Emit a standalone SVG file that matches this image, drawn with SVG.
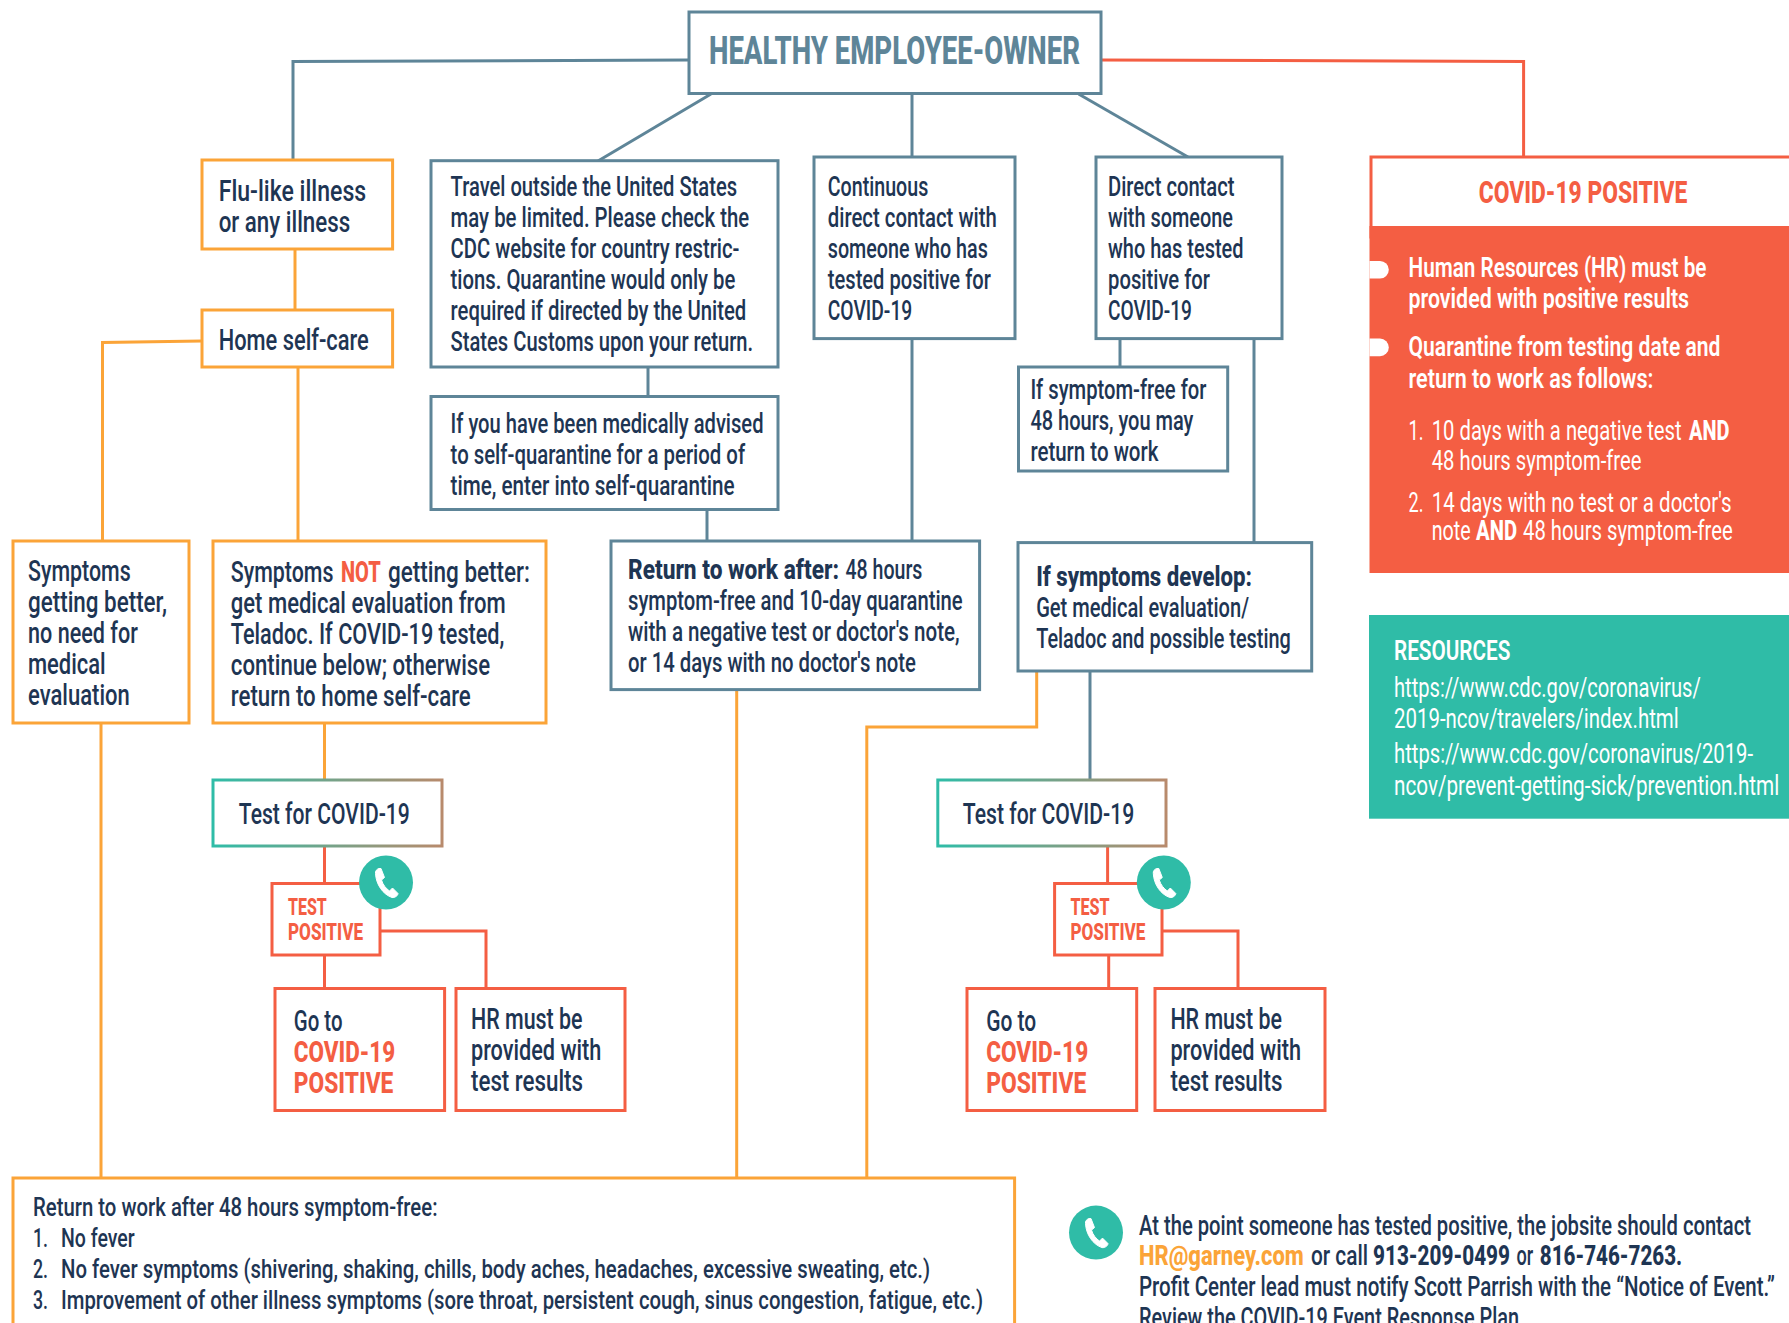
<svg xmlns="http://www.w3.org/2000/svg" xmlns:xlink="http://www.w3.org/1999/xlink" width="1789" height="1323" viewBox="0 0 1789 1323">
<style>
text{font-family:Roboto,"Liberation Sans",sans-serif;font-size:27.500px;font-weight:500;fill:#1e3553}
.s{fill:none;stroke:#5e8598;stroke-width:3}
.o{fill:none;stroke:#fba438;stroke-width:3}
.r{fill:none;stroke:#f45e43;stroke-width:3}
.ob{fill:#fff;stroke:#fba438;stroke-width:3}
.sb{fill:#fff;stroke:#5e8598;stroke-width:3}
.rb{fill:#fff;stroke:#f45e43;stroke-width:3}
.gb{fill:#fff;stroke:url(#grad);stroke-width:3}
.big{font-size:29.500px}
.red{fill:#f45e43}
.w{fill:#fff;font-size:27px;font-weight:400}
.tp{fill:#f45e43;font-weight:800;font-size:23.500px}
.cp{fill:#f45e43;font-weight:800;font-size:30.500px}
.sm{font-size:25.500px}
.ft{font-size:27px}
.org{fill:#fba438}
.b{font-weight:800}
.m{font-weight:600}
</style>
<defs>
<linearGradient id="grad" x1="0" y1="0" x2="1" y2="0"><stop offset="0" stop-color="#2fbca7"/><stop offset="1" stop-color="#b88a6c"/></linearGradient>
<g id="phone"><circle r="27" fill="#2fbca7"/><path fill="#fff" stroke="#fff" stroke-width="1" stroke-linejoin="round" d="M-10.500-9C-11-11.500-9-13.500-7-14L-5-14L-1.500-5L-4.500-2.500C-3 2.500 0 6 3.500 8.500L6.500 5.500L12 11C12 13 9 15.500 6 15C-3 12-10 2-10.500-9Z"/></g>
</defs>
<rect width="1789" height="1323" fill="#fff"/>
<g id="connectors">
<path class="s" d="M689 60L293 61.500V160"/>
<path class="s" d="M711 94L598 161"/>
<path class="s" d="M912 93V157"/>
<path class="s" d="M1078.600 94L1188 157"/>
<path class="r" d="M1101 60L1523.600 61.500V157"/>
<path class="o" d="M295 249V310"/>
<path class="o" d="M202 341L102.500 342.500V541"/>
<path class="o" d="M298 367V541"/>
<path class="s" d="M648 367V397"/>
<path class="s" d="M707 510V541"/>
<path class="s" d="M912 338V541"/>
<path class="s" d="M1120 338V367"/>
<path class="s" d="M1254 338V543"/>
<path class="o" d="M324.500 723V780"/>
<path class="r" d="M324.500 846V884"/>
<path class="r" d="M380 931H486V988"/>
<path class="r" d="M324.500 955V988"/>
<path class="o" d="M101 723V1177"/>
<path class="o" d="M736.700 690V1177"/>
<path class="o" d="M1036.700 671V727H866.800V1177"/>
<path class="s" d="M1090 671V780"/>
<path class="r" d="M1107.600 846V884"/>
<path class="r" d="M1162 931H1238V988"/>
<path class="r" d="M1108.700 955V988"/>
</g>
<g id="main"><rect class="sb" x="689" y="12" width="412" height="81.500"/><text x="709" y="64" class="b" style="font-size:38px;fill:#5e8598" textLength="371" lengthAdjust="spacingAndGlyphs">HEALTHY EMPLOYEE-OWNER</text></g>
<g id="flu"><rect class="ob" x="202" y="160" width="190.600" height="89"/><text class="big" x="218.700" y="200.700" textLength="147.500" lengthAdjust="spacingAndGlyphs">Flu-like illness</text><text class="big" x="218.700" y="232" textLength="131.500" lengthAdjust="spacingAndGlyphs">or any illness</text></g>
<g id="home"><rect class="ob" x="202" y="310" width="190.600" height="57"/><text class="big" x="218.700" y="350" textLength="150" lengthAdjust="spacingAndGlyphs">Home self-care</text></g>
<g id="travel"><rect class="sb" x="431" y="160.700" width="347" height="206.300"/>
<text x="450.600" y="195.700" textLength="286.500" lengthAdjust="spacingAndGlyphs">Travel outside the United States</text>
<text x="450.600" y="226.700" textLength="298.500" lengthAdjust="spacingAndGlyphs">may be limited. Please check the</text>
<text x="450.600" y="257.700" textLength="288.800" lengthAdjust="spacingAndGlyphs">CDC website for country restric-</text>
<text x="450.600" y="288.700" textLength="284.700" lengthAdjust="spacingAndGlyphs">tions. Quarantine would only be</text>
<text x="450.600" y="319.700" textLength="295.600" lengthAdjust="spacingAndGlyphs">required if directed by the United</text>
<text x="450.600" y="350.700" textLength="302.500" lengthAdjust="spacingAndGlyphs">States Customs upon your return.</text></g>
<g id="selfq"><rect class="sb" x="431" y="396.500" width="347" height="113"/>
<text x="450.600" y="432.900" textLength="312.900" lengthAdjust="spacingAndGlyphs">If you have been medically advised</text>
<text x="450.600" y="464" textLength="294.500" lengthAdjust="spacingAndGlyphs">to self-quarantine for a period of</text>
<text x="450.600" y="495" textLength="284" lengthAdjust="spacingAndGlyphs">time, enter into self-quarantine</text></g>
<g id="continuous"><rect class="sb" x="814" y="157" width="201" height="181.600"/>
<text x="827.800" y="195.700" textLength="100.500" lengthAdjust="spacingAndGlyphs">Continuous</text>
<text x="827.800" y="226.700" textLength="169" lengthAdjust="spacingAndGlyphs">direct contact with</text>
<text x="827.800" y="257.700" textLength="160" lengthAdjust="spacingAndGlyphs">someone who has</text>
<text x="827.800" y="288.700" textLength="163" lengthAdjust="spacingAndGlyphs">tested positive for</text>
<text x="827.800" y="319.700" textLength="84.500" lengthAdjust="spacingAndGlyphs">COVID-19</text></g>
<g id="direct"><rect class="sb" x="1096" y="157" width="186" height="181.600"/>
<text x="1108" y="195.700" textLength="126.500" lengthAdjust="spacingAndGlyphs">Direct contact</text>
<text x="1108" y="226.700" textLength="125" lengthAdjust="spacingAndGlyphs">with someone</text>
<text x="1108" y="257.700" textLength="135.500" lengthAdjust="spacingAndGlyphs">who has tested</text>
<text x="1108" y="288.700" textLength="102" lengthAdjust="spacingAndGlyphs">positive for</text>
<text x="1108" y="319.700" textLength="84" lengthAdjust="spacingAndGlyphs">COVID-19</text></g>
<g id="symptomfree"><rect class="sb" x="1018.500" y="367" width="209.200" height="104"/>
<text x="1030.400" y="398.600" textLength="176" lengthAdjust="spacingAndGlyphs">If symptom-free for</text>
<text x="1030.400" y="430" textLength="163" lengthAdjust="spacingAndGlyphs">48 hours, you may</text>
<text x="1030.400" y="460.700" textLength="128" lengthAdjust="spacingAndGlyphs">return to work</text></g>
<g id="positive">
<rect class="rb" x="1371" y="157" width="450" height="80"/>
<rect x="1369.500" y="226" width="419.500" height="347" fill="#f45e43"/>
<text x="1478.800" y="202.500" class="cp" textLength="208.600" lengthAdjust="spacingAndGlyphs">COVID-19 POSITIVE</text>
<path fill="#fff" d="M1369.500 261H1380a8.800 8.800 0 0 1 0 17.600H1369.500Z"/>
<path fill="#fff" d="M1369.500 338.600H1380a8.800 8.800 0 0 1 0 17.600H1369.500Z"/>
<text class="w m" x="1408.500" y="276.800" textLength="298" lengthAdjust="spacingAndGlyphs">Human Resources (HR) must be</text>
<text class="w m" x="1408.500" y="307.900" textLength="280.600" lengthAdjust="spacingAndGlyphs">provided with positive results</text>
<text class="w m" x="1408.500" y="356.400" textLength="312" lengthAdjust="spacingAndGlyphs">Quarantine from testing date and</text>
<text class="w m" x="1408.500" y="387.500" textLength="245" lengthAdjust="spacingAndGlyphs">return to work as follows:</text>
<text class="w" x="1408.500" y="440.400" textLength="15" lengthAdjust="spacingAndGlyphs">1.</text>
<text class="w" x="1431.700" y="440.400"><tspan textLength="250" lengthAdjust="spacingAndGlyphs">10 days with a negative test</tspan><tspan class="b" x="1689" textLength="40.500" lengthAdjust="spacingAndGlyphs">AND</tspan></text>
<text class="w" x="1431.700" y="469.600" textLength="209.800" lengthAdjust="spacingAndGlyphs">48 hours symptom-free</text>
<text class="w" x="1408.500" y="511.800" textLength="15" lengthAdjust="spacingAndGlyphs">2.</text>
<text class="w" x="1431.700" y="511.800" textLength="300" lengthAdjust="spacingAndGlyphs">14 days with no test or a doctor's</text>
<text class="w" x="1431.700" y="540.400"><tspan textLength="39" lengthAdjust="spacingAndGlyphs">note</tspan><tspan class="b" x="1476" textLength="41" lengthAdjust="spacingAndGlyphs">AND</tspan><tspan x="1523" textLength="209.700" lengthAdjust="spacingAndGlyphs">48 hours symptom-free</tspan></text>
</g>
<g id="resources"><rect x="1369" y="615" width="420" height="203.700" fill="#2fbca7"/>
<text class="w m" x="1394" y="660" textLength="116.300" lengthAdjust="spacingAndGlyphs">RESOURCES</text>
<text class="w" x="1394" y="696.700" textLength="306.700" lengthAdjust="spacingAndGlyphs">https://www.cdc.gov/coronavirus/</text>
<text class="w" x="1394" y="728" textLength="284.700" lengthAdjust="spacingAndGlyphs">2019-ncov/travelers/index.html</text>
<text class="w" x="1394" y="763" textLength="359" lengthAdjust="spacingAndGlyphs">https://www.cdc.gov/coronavirus/2019-</text>
<text class="w" x="1394" y="795" textLength="385.300" lengthAdjust="spacingAndGlyphs">ncov/prevent-getting-sick/prevention.html</text></g>
<g id="better"><rect class="ob" x="13" y="541" width="176" height="182"/>
<text class="big" x="28" y="581" textLength="102.700" lengthAdjust="spacingAndGlyphs">Symptoms</text>
<text class="big" x="28" y="612.300" textLength="139" lengthAdjust="spacingAndGlyphs">getting better,</text>
<text class="big" x="28" y="643.200" textLength="109.800" lengthAdjust="spacingAndGlyphs">no need for</text>
<text class="big" x="28" y="674" textLength="77.700" lengthAdjust="spacingAndGlyphs">medical</text>
<text class="big" x="28" y="705.300" textLength="101.800" lengthAdjust="spacingAndGlyphs">evaluation</text></g>
<g id="notbetter"><rect class="ob" x="213" y="541" width="333" height="182"/>
<text class="big" x="230.800" y="581.700"><tspan textLength="102.700" lengthAdjust="spacingAndGlyphs">Symptoms</tspan><tspan class="red b" x="341" textLength="39.700" lengthAdjust="spacingAndGlyphs">NOT</tspan><tspan x="388" textLength="142" lengthAdjust="spacingAndGlyphs">getting better:</tspan></text>
<text class="big" x="230.800" y="613" textLength="275" lengthAdjust="spacingAndGlyphs">get medical evaluation from</text>
<text class="big" x="230.800" y="644" textLength="273.600" lengthAdjust="spacingAndGlyphs">Teladoc. If COVID-19 tested,</text>
<text class="big" x="230.800" y="675.400" textLength="259.400" lengthAdjust="spacingAndGlyphs">continue below; otherwise</text>
<text class="big" x="230.800" y="706" textLength="240" lengthAdjust="spacingAndGlyphs">return to home self-care</text></g>
<g id="return"><rect class="sb" x="611" y="541" width="368.600" height="148.600"/>
<text x="628" y="578.600"><tspan class="b" textLength="211" lengthAdjust="spacingAndGlyphs">Return to work after:</tspan><tspan x="845.400" textLength="77" lengthAdjust="spacingAndGlyphs">48 hours</tspan></text>
<text x="628" y="609.600" textLength="334.700" lengthAdjust="spacingAndGlyphs">symptom-free and 10-day quarantine</text>
<text x="628" y="640.600" textLength="331.600" lengthAdjust="spacingAndGlyphs">with a negative test or doctor's note,</text>
<text x="628" y="671.600" textLength="287.800" lengthAdjust="spacingAndGlyphs">or 14 days with no doctor's note</text></g>
<g id="develop"><rect class="sb" x="1018" y="542.600" width="293.700" height="128.400"/>
<text class="b" x="1036.200" y="585.900" textLength="215.800" lengthAdjust="spacingAndGlyphs">If symptoms develop:</text>
<text x="1036.200" y="616.900" textLength="212.800" lengthAdjust="spacingAndGlyphs">Get medical evaluation/</text>
<text x="1036.200" y="647.900" textLength="254.600" lengthAdjust="spacingAndGlyphs">Teladoc and possible testing</text></g>
<g id="test1"><rect class="gb" x="213" y="780" width="229" height="66"/><text class="big" x="238.800" y="824" textLength="171" lengthAdjust="spacingAndGlyphs">Test for COVID-19</text></g>
<g id="test2"><rect class="gb" x="937.800" y="780" width="228.200" height="66"/><text class="big" x="962.800" y="824" textLength="171.400" lengthAdjust="spacingAndGlyphs">Test for COVID-19</text></g>
<g id="tp1"><rect class="rb" x="272" y="883.500" width="108" height="71.500"/><text class="tp" x="288" y="914.600" textLength="38.800" lengthAdjust="spacingAndGlyphs">TEST</text><text class="tp" x="288" y="940" textLength="75" lengthAdjust="spacingAndGlyphs">POSITIVE</text><use xlink:href="#phone" href="#phone" x="386" y="882.500"/></g>
<g id="tp2"><rect class="rb" x="1054.600" y="883.500" width="107.400" height="71.500"/><text class="tp" x="1070.400" y="914.600" textLength="39.300" lengthAdjust="spacingAndGlyphs">TEST</text><text class="tp" x="1070.400" y="940" textLength="75" lengthAdjust="spacingAndGlyphs">POSITIVE</text><use xlink:href="#phone" href="#phone" x="1163.800" y="882.500"/></g>
<g id="goto1"><rect class="rb" x="275" y="988.500" width="169.600" height="122"/><text class="big" x="293.800" y="1030.500" textLength="48.700" lengthAdjust="spacingAndGlyphs">Go to</text><text class="big red b" x="293.800" y="1061.500" textLength="101.300" lengthAdjust="spacingAndGlyphs">COVID-19</text><text class="big red b" x="293.800" y="1092.500" textLength="99.500" lengthAdjust="spacingAndGlyphs">POSITIVE</text></g>
<g id="hr1"><rect class="rb" x="456" y="988.500" width="169" height="122"/><text class="big" x="471" y="1029" textLength="111.600" lengthAdjust="spacingAndGlyphs">HR must be</text><text class="big" x="471" y="1060.300" textLength="130.400" lengthAdjust="spacingAndGlyphs">provided with</text><text class="big" x="471" y="1091" textLength="112" lengthAdjust="spacingAndGlyphs">test results</text></g>
<g id="goto2"><rect class="rb" x="967" y="988.500" width="169.700" height="122"/><text class="big" x="986.200" y="1030.500" textLength="50" lengthAdjust="spacingAndGlyphs">Go to</text><text class="big red b" x="986.200" y="1061.500" textLength="102" lengthAdjust="spacingAndGlyphs">COVID-19</text><text class="big red b" x="986.200" y="1092.500" textLength="100" lengthAdjust="spacingAndGlyphs">POSITIVE</text></g>
<g id="hr2"><rect class="rb" x="1155" y="988.500" width="170" height="122"/><text class="big" x="1170.400" y="1029" textLength="111.700" lengthAdjust="spacingAndGlyphs">HR must be</text><text class="big" x="1170.400" y="1060.300" textLength="130.600" lengthAdjust="spacingAndGlyphs">provided with</text><text class="big" x="1170.400" y="1091" textLength="112" lengthAdjust="spacingAndGlyphs">test results</text></g>
<g id="bottom"><rect class="ob" x="13" y="1178" width="1001.600" height="170"/>
<text class="sm" x="33" y="1215.500" textLength="404.500" lengthAdjust="spacingAndGlyphs">Return to work after 48 hours symptom-free:</text>
<text class="sm" x="33" y="1246.500" textLength="15" lengthAdjust="spacingAndGlyphs">1.</text><text class="sm" x="61" y="1246.500" textLength="73.600" lengthAdjust="spacingAndGlyphs">No fever</text>
<text class="sm" x="33" y="1277.500" textLength="15" lengthAdjust="spacingAndGlyphs">2.</text><text class="sm" x="61" y="1277.500" textLength="869" lengthAdjust="spacingAndGlyphs">No fever symptoms (shivering, shaking, chills, body aches, headaches, excessive sweating, etc.)</text>
<text class="sm" x="33" y="1308.500" textLength="15" lengthAdjust="spacingAndGlyphs">3.</text><text class="sm" x="61" y="1308.500" textLength="922" lengthAdjust="spacingAndGlyphs">Improvement of other illness symptoms (sore throat, persistent cough, sinus congestion, fatigue, etc.)</text></g>
<g id="footer"><use xlink:href="#phone" href="#phone" x="1096" y="1232.600"/>
<text class="ft" x="1139" y="1234.500" textLength="612" lengthAdjust="spacingAndGlyphs">At the point someone has tested positive, the jobsite should contact</text>
<text class="ft" x="1139" y="1265"><tspan class="org b" textLength="164.800" lengthAdjust="spacingAndGlyphs">HR@garney.com</tspan><tspan x="1311" textLength="57" lengthAdjust="spacingAndGlyphs">or call</tspan><tspan class="b" x="1373" textLength="137" lengthAdjust="spacingAndGlyphs">913-209-0499</tspan><tspan x="1516.400" textLength="16.700" lengthAdjust="spacingAndGlyphs">or</tspan><tspan class="b" x="1539.800" textLength="142.400" lengthAdjust="spacingAndGlyphs">816-746-7263.</tspan></text>
<text class="ft" x="1139" y="1296" textLength="636" lengthAdjust="spacingAndGlyphs">Profit Center lead must notify Scott Parrish with the “Notice of Event.”</text>
<text class="ft" x="1139" y="1327" textLength="380" lengthAdjust="spacingAndGlyphs">Review the COVID-19 Event Response Plan</text></g>
</svg>
